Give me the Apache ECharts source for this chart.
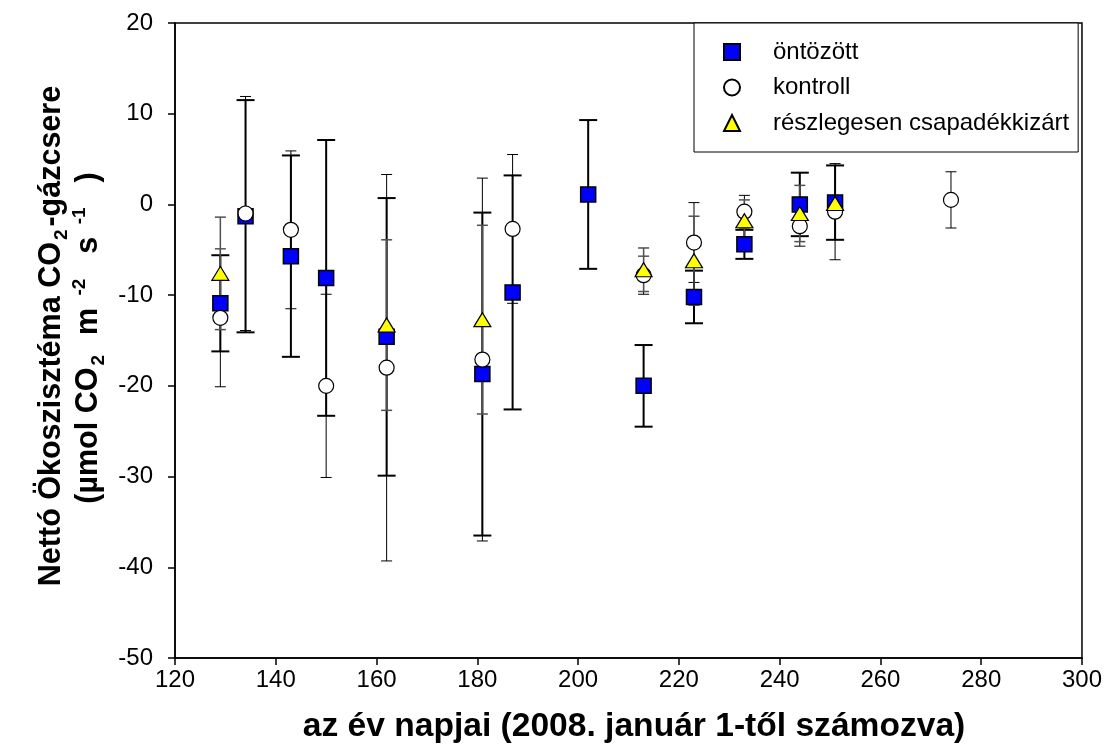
<!DOCTYPE html>
<html>
<head>
<meta charset="utf-8">
<script src="https://cdn.jsdelivr.net/npm/echarts@6/dist/echarts.min.js"></script>
<style>html,body{margin:0;padding:0;background:#fff}#c{width:1105px;height:755px}</style>
</head>
<body>
<div id="c"></div>
<script>
// ---- data ----
const seriesNames = ['öntözött', 'kontroll', 'részlegesen csapadékkizárt'];

const sqDays = [129, 134, 143, 150, 162, 181, 187, 202, 213, 223, 233, 244, 251];
const sqVals = [-10.9, -1.3, -5.7, -8.1, -14.6, -18.7, -9.7, 1.1, -20.0, -10.2, -4.4, 0.0, 0.2];
const sqErrs = [5.3, 12.8, 11.1, 15.2, 15.3, 17.8, 12.9, 8.2, 4.5, 2.9, 1.6, 3.5, 4.1];

const ciDays = [129, 134, 143, 150, 162, 181, 187, 213, 223, 233, 244, 251, 274];
const ciVals = [-12.5, -1.0, -2.8, -20.0, -18.0, -17.1, -2.7, -7.8, -4.2, -0.8, -2.4, -0.8, 0.5];
const ciErrs = [7.6, 12.9, 8.7, 10.1, 21.3, 20.0, 8.2, 2.1, 4.4, 1.8, 2.2, 5.3, 3.1];

const trDays = [129, 162, 181, 213, 223, 233, 244, 251];
const trVals = [-7.6, -13.3, -12.7, -7.2, -6.2, -1.8, -1.0, 0.1];
const trErrs = [6.2, 9.4, 10.4, 2.4, 4.9, 2.3, 3.1, 0];

const xTicks = {min: 120, max: 300, interval: 20};
const yTicks = {min: -50, max: 20, interval: 10};

const xTitle = 'az év napjai (2008. január 1-től számozva)';

// ---- chart ----
const F = '"Liberation Sans", Arial, Helvetica, sans-serif';
const pts = (d, v) => d.map((x, i) => [x, v[i]]);
const bars = (d, v, e) => d.map((x, i) => [x, v[i] - e[i], v[i] + e[i]]);

function errRenderer(color, width, capHalf) {
  return function (params, api) {
    const x = api.value(0);
    const lo = api.coord([x, api.value(1)]);
    const hi = api.coord([x, api.value(2)]);
    const st = {stroke: color, lineWidth: width};
    return {
      type: 'group',
      children: [
        {type: 'line', shape: {x1: lo[0], y1: lo[1], x2: hi[0], y2: hi[1]}, style: st},
        {type: 'line', shape: {x1: lo[0] - capHalf, y1: lo[1], x2: lo[0] + capHalf, y2: lo[1]}, style: st},
        {type: 'line', shape: {x1: hi[0] - capHalf, y1: hi[1], x2: hi[0] + capHalf, y2: hi[1]}, style: st}
      ]
    };
  };
}

const chart = echarts.init(document.getElementById('c'), null, {renderer: 'canvas'});

const rich = {
  b: {fontSize: 30.5, fontWeight: 'bold', fontFamily: F, color: '#000', lineHeight: 38},
  s: {fontSize: 19, fontWeight: 'bold', fontFamily: F, color: '#000', lineHeight: 19, verticalAlign: 'bottom', padding: [0, 3, 0, 2]},
  p: {fontSize: 19, fontWeight: 'bold', fontFamily: F, color: '#000', lineHeight: 19, verticalAlign: 'top', padding: [0, 8, 0, 4]}
};

chart.setOption({
  animation: false,
  backgroundColor: '#fff',
  grid: {left: 175, right: 23, top: 23, bottom: 97, show: true, borderColor: '#000', borderWidth: 1.5, backgroundColor: 'transparent'},
  xAxis: {
    type: 'value', min: xTicks.min, max: xTicks.max, interval: xTicks.interval,
    axisLine: {onZero: false, lineStyle: {color: '#000', width: 1.5}},
    axisTick: {show: true, inside: false, length: 7, lineStyle: {color: '#000', width: 1.5}},
    axisLabel: {color: '#000', fontSize: 24, fontFamily: F, margin: 10},
    splitLine: {show: false}
  },
  yAxis: {
    type: 'value', min: yTicks.min, max: yTicks.max, interval: yTicks.interval,
    axisLine: {onZero: false, lineStyle: {color: '#000', width: 1.5}},
    axisTick: {show: true, inside: false, length: 7, lineStyle: {color: '#000', width: 1.5}},
    axisLabel: {color: '#000', fontSize: 24, fontFamily: F, margin: 22},
    splitLine: {show: false}
  },
  legend: {
    data: seriesNames,
    orient: 'vertical',
    left: 694, top: 23,
    padding: [17, 9, 17, 29],
    itemWidth: 16, itemHeight: 16, itemGap: 11.5,
    borderColor: '#000', borderWidth: 1, backgroundColor: '#fff',
    textStyle: {color: '#000', fontSize: 24, fontFamily: F, lineHeight: 16, padding: [0, 0, 0, 28]},
    selectedMode: false
  },
  graphic: [
    {type: 'text', x: 52, y: 336, rotation: Math.PI / 2,
      style: {text: '{b|Nettó Ökoszisztéma CO}{s|2}{b|-gázcsere}', rich: rich, align: 'center', verticalAlign: 'middle'}},
    {type: 'text', x: 89, y: 338, rotation: Math.PI / 2,
      style: {text: '{b|(µmol CO}{s|2}{b|  m }{p|-2}{b|  s }{p|-1}{b|  )}', rich: rich, align: 'center', verticalAlign: 'middle'}},
    {type: 'text', x: 634, y: 727,
      style: {text: xTitle, font: 'bold 33.6px ' + F, fill: '#000', align: 'center', verticalAlign: 'middle'}}
  ],
  series: [
    {type: 'custom', renderItem: errRenderer('#000', 2, 9), data: bars(sqDays, sqVals, sqErrs), silent: true},
    {name: seriesNames[0], type: 'scatter', data: pts(sqDays, sqVals), symbol: 'rect', symbolSize: 15,
      itemStyle: {color: '#0000ff', borderColor: '#000', borderWidth: 1.5, opacity: 1}},
    {type: 'custom', renderItem: errRenderer('#000', 1, 5.5), data: bars(ciDays, ciVals, ciErrs), silent: true},
    {name: seriesNames[1], type: 'scatter', data: pts(ciDays, ciVals), symbol: 'circle', symbolSize: 15,
      itemStyle: {color: '#fff', borderColor: '#000', borderWidth: 1.2, opacity: 1}},
    {type: 'custom', renderItem: errRenderer('#505050', 1.5, 5.5), data: bars(trDays, trVals, trErrs), silent: true},
    {name: seriesNames[2], type: 'scatter', data: pts(trDays, trVals), symbol: 'triangle', symbolSize: [17, 14],
      itemStyle: {color: '#ffff00', borderColor: '#000', borderWidth: 1.2, opacity: 1}}
  ]
});
</script>
</body>
</html>
